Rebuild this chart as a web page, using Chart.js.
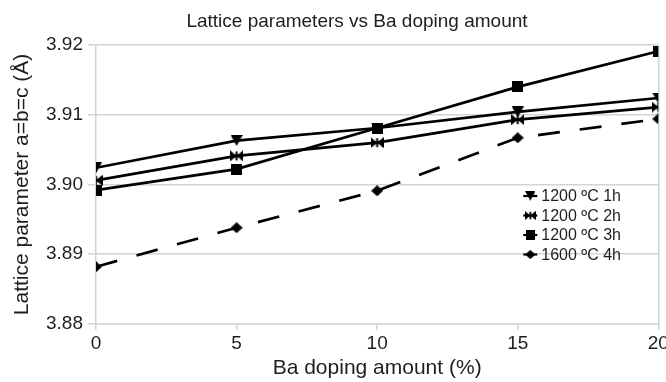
<!DOCTYPE html>
<html>
<head>
<meta charset="utf-8">
<script src="https://cdn.jsdelivr.net/npm/chart.js@4/dist/chart.umd.min.js"></script>
<style>
  html, body { margin: 0; padding: 0; background: #fff; }
  #wrap { width: 666px; height: 382px; }
</style>
</head>
<body>
<div id="wrap"><canvas id="chart"></canvas></div>
<script>
// ===== Lattice parameters vs Ba doping amount =====

const baDoping = [0, 5, 10, 15, 20];
const seriesLabels = ['1200 ºC 1h', '1200 ºC 2h', '1200 ºC 3h', '1600 ºC 4h'];
const lattice1h = [3.9024, 3.9063, 3.9081, 3.9104, 3.9124];
const lattice2h = [3.9006, 3.9041, 3.9060, 3.9093, 3.9111];
const lattice3h = [3.8992, 3.9022, 3.9081, 3.9140, 3.9191];
const lattice4h = [3.8882, 3.8938, 3.8991, 3.9067, 3.9094];

const FONT = 'Arial, "Liberation Sans", sans-serif';
const TEXT = '#1e1e1e';
const GRID = '#d4d4d4';

/** Small canvas markers, drawn once and reused as point styles */
function makeMarker(w, h, draw) {
    const c = document.createElement('canvas');
    c.width = w;
    c.height = h;
    const ctx = c.getContext('2d');
    ctx.fillStyle = '#000';
    ctx.beginPath();
    draw(ctx, w, h);
    ctx.fill();
    return c;
}

const triDown = makeMarker(12, 11, (ctx, w, h) => {
    ctx.moveTo(0, 0); ctx.lineTo(w, 0); ctx.lineTo(w / 2, h); ctx.closePath();
});
const bowtie = makeMarker(13, 11, (ctx, w, h) => {
    ctx.moveTo(0, 0); ctx.lineTo(w / 2, h / 2); ctx.lineTo(0, h); ctx.closePath();
    ctx.moveTo(w, 0); ctx.lineTo(w / 2, h / 2); ctx.lineTo(w, h); ctx.closePath();
    ctx.rect(w / 2 - 1, 1, 2, h - 2);
});
const square = makeMarker(11, 11, (ctx, w, h) => {
    ctx.rect(0, 0, w, h);
});
const diamond = makeMarker(12, 11, (ctx, w, h) => {
    ctx.moveTo(w / 2, 0); ctx.lineTo(w, h / 2); ctx.lineTo(w / 2, h); ctx.lineTo(0, h / 2); ctx.closePath();
});

const seriesValues = [lattice1h, lattice2h, lattice3h, lattice4h];
const markers = [triDown, bowtie, square, diamond];
const dashes = [[], [], [], [22, 20]];

const datasets = seriesValues.map((vals, i) => ({
    label: seriesLabels[i],
    data: baDoping.map((x, j) => ({ x, y: vals[j] })),
    borderColor: '#000',
    backgroundColor: '#000',
    borderWidth: 2.7,
    borderDash: dashes[i],
    pointStyle: markers[i],
    pointRadius: 5,
    tension: 0,
    fill: false,
}));

/** Title drawn at its own spot, as in the source figure */
const titlePlugin = {
    id: 'plotTitle',
    afterDraw(chart) {
        const ctx = chart.ctx;
        ctx.save();
        ctx.font = '19px ' + FONT;
        ctx.fillStyle = TEXT;
        ctx.textAlign = 'center';
        ctx.textBaseline = 'middle';
        ctx.fillText('Lattice parameters vs Ba doping amount', 357, 22);
        ctx.restore();
    },
};

/** Legend inside the plot, right side */
const legendPlugin = {
    id: 'insideLegend',
    afterDraw(chart) {
        const ctx = chart.ctx;
        const x0 = chart.chartArea.right - 135;
        const y0 = 196;
        ctx.save();
        ctx.font = '16px ' + FONT;
        ctx.fillStyle = TEXT;
        ctx.textBaseline = 'middle';
        chart.data.datasets.forEach((ds, i) => {
            const y = y0 + i * 19.5;
            ctx.strokeStyle = '#000';
            ctx.lineWidth = 2.2;
            ctx.beginPath();
            ctx.moveTo(x0, y);
            ctx.lineTo(x0 + 14, y);
            ctx.stroke();
            const m = ds.pointStyle;
            const w = m.width * 0.85, h = m.height * 0.85;
            ctx.drawImage(m, x0 + 7 - w / 2, y - h / 2, w, h);
            ctx.fillText(ds.label, x0 + 18, y + 1);
        });
        ctx.restore();
    },
};

new Chart(document.getElementById('chart'), {
    type: 'line',
    data: { datasets },
    options: {
        responsive: true,
        maintainAspectRatio: false,
        animation: false,
        events: [],
        layout: { padding: { top: 45, right: 4, bottom: 0, left: 0 } },
        plugins: {
            legend: { display: false },
            title: { display: false },
            tooltip: { enabled: false },
        },
        scales: {
            x: {
                type: 'linear',
                min: 0,
                max: 20,
                ticks: {
                    stepSize: 5,
                    color: TEXT,
                    font: { size: 19, family: FONT },
                    padding: 2,
                    maxRotation: 0,
                },
                grid: {
                    color: (c) => (c.index === 4 ? GRID : 'rgba(0,0,0,0)'),
                    tickColor: GRID,
                    tickLength: 6,
                    lineWidth: 1.5,
                },
                border: { color: GRID, width: 1.5 },
                title: {
                    display: true,
                    text: 'Ba doping amount (%)',
                    color: TEXT,
                    font: { size: 21, family: FONT },
                    padding: { top: 0, bottom: 1 },
                },
                afterFit(scale) {
                    scale.height = 58;
                    scale.paddingLeft = 0;
                    scale.paddingRight = 0;
                },
            },
            y: {
                min: 3.88,
                max: 3.92,
                ticks: {
                    stepSize: 0.01,
                    color: TEXT,
                    font: { size: 19, family: FONT },
                    padding: 5,
                    callback: (v) => v.toFixed(2),
                },
                grid: {
                    color: GRID,
                    tickColor: GRID,
                    tickLength: 8,
                    lineWidth: 1.5,
                },
                border: { color: GRID, width: 1.5 },
                title: {
                    display: true,
                    text: 'Lattice parameter a=b=c (Å)',
                    color: TEXT,
                    font: { size: 21, family: FONT },
                    padding: { top: 10, bottom: 10 },
                },
                afterFit(scale) {
                    scale.width = 96;
                },
            },
        },
    },
    plugins: [titlePlugin, legendPlugin],
});
</script>
</body>
</html>
